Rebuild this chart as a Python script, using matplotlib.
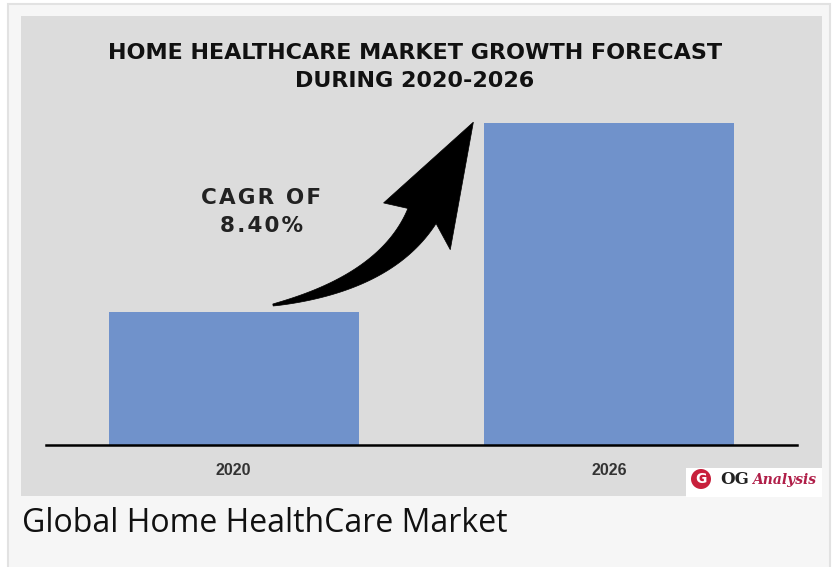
import numpy as np
import matplotlib.pyplot as plt
from matplotlib.patches import Rectangle, Polygon, Circle
from matplotlib.transforms import IdentityTransform

years = ["2020", "2026"]
market_size = [133, 322]   # relative bar heights
cagr_label = "CAGR OF\n8.40%"
title = "HOME HEALTHCARE MARKET GROWTH FORECAST\nDURING 2020-2026"
caption = "Global Home HealthCare Market"

W, H = 836, 567
fig = plt.figure(figsize=(W / 100, H / 100), dpi=100, facecolor="white")


def fx(px):
    return px / W


def fy(py):
    return 1 - py / H


# outer card and grey panel
fig.patches.append(Rectangle((fx(8), fy(570)), fx(830) - fx(8), fy(4) - fy(570),
                             transform=fig.transFigure, facecolor="#f6f6f6",
                             edgecolor="#e2e2e2", linewidth=1.5, zorder=-2))
fig.patches.append(Rectangle((fx(21), fy(496)), fx(822) - fx(21), fy(16) - fy(496),
                             transform=fig.transFigure, facecolor="#dcdcdc",
                             edgecolor="none", zorder=-1))

ax = fig.add_axes([fx(46), fy(445), fx(797) - fx(46), fy(16) - fy(445)])
ax.set_zorder(1)
ax.patch.set_alpha(0)
x = np.arange(len(years))
ax.bar(x, market_size, width=0.665, color="#7092cb", zorder=2)
ax.set_xlim(-0.5, 1.5)
ax.set_ylim(0, 429)
for s in ["top", "right", "left"]:
    ax.spines[s].set_visible(False)
ax.spines["bottom"].set_linewidth(1.8)
ax.spines["bottom"].set_color("black")
ax.set_yticks([])
ax.set_xticks(x)
ax.set_xticklabels(years, fontsize=11.5, fontweight="bold", family="Liberation Sans", color="#333333")
ax.tick_params(axis="x", length=0, pad=13)


def spaced(s, gap="\u200a"):
    return "\n".join(gap.join(line) for line in s.split("\n"))


# title and CAGR text
fig.text(fx(415), fy(67), title, ha="center", va="center", fontsize=16,
         fontweight="heavy", family="DejaVu Sans", color="#111111", linespacing=1.55)
fig.text(fx(261), fy(212), spaced(cagr_label), ha="center", va="center", fontsize=15.5,
         fontweight="heavy", family="DejaVu Sans", color="#222222", linespacing=1.5)

# curved tapered arrow, built in pixel space
def px(p):
    return np.array([p[0], H - p[1]])

T = np.array([273, 305.0])
N = np.array([422, 216.0])
C = np.array([386, 283.0])
d = np.array([0.48, -0.877])
perp_h = np.array([0.877, 0.48])
t = np.linspace(0, 1, 60)
curve = ((1 - t) ** 2)[:, None] * T + (2 * (1 - t) * t)[:, None] * C + (t ** 2)[:, None] * N
deriv = (2 * (1 - t))[:, None] * (C - T) + (2 * t)[:, None] * (N - C)
tang = deriv / np.linalg.norm(deriv, axis=1)[:, None]
nrm = np.column_stack([-tang[:, 1], tang[:, 0]])
hw = 1 + 15 * t ** 0.9
upper = curve + nrm * hw[:, None]
lower = curve - nrm * hw[:, None]
tip = N + d * 107
barb_l = N - perp_h * 40 - d * 7
barb_r = N + perp_h * 41 - d * 16
flip = np.dot(nrm[-1], perp_h) < 0
pts = np.vstack([upper, [barb_l if flip else barb_r], [tip],
                 [barb_r if flip else barb_l], lower[::-1]])
pts_disp = np.array([px(p) for p in pts])
fig.patches.append(Polygon(pts_disp, closed=True, transform=IdentityTransform(),
                           facecolor="black", edgecolor="black", linewidth=0.5, zorder=5))

# logo
fig.patches.append(Rectangle((fx(686), fy(497)), fx(822) - fx(686), fy(468) - fy(497),
                             transform=fig.transFigure, facecolor="white",
                             edgecolor="none", zorder=3))
fig.patches.append(Circle(px((701, 479)), 10, transform=IdentityTransform(),
                          facecolor="#c8203c", edgecolor="none", zorder=4))
fig.text(fx(701), fy(479), "G", ha="center", va="center", fontsize=10,
         fontweight="bold", color="white", family="DejaVu Sans", zorder=6)
fig.text(fx(720), fy(480), "OG", ha="left", va="center", fontsize=12,
         fontweight="bold", family="DejaVu Serif", color="#222222", zorder=6)
fig.text(fx(752), fy(480), "Analysis", ha="left", va="center", fontsize=10,
         fontweight="bold", style="italic", family="DejaVu Serif", color="#b01e48", zorder=6)

fig.text(fx(22), fy(524), caption, ha="left", va="center", fontsize=23,
         family="Open Sans", color="#111111")

fig.savefig("out.png", dpi=100, facecolor=fig.get_facecolor())
